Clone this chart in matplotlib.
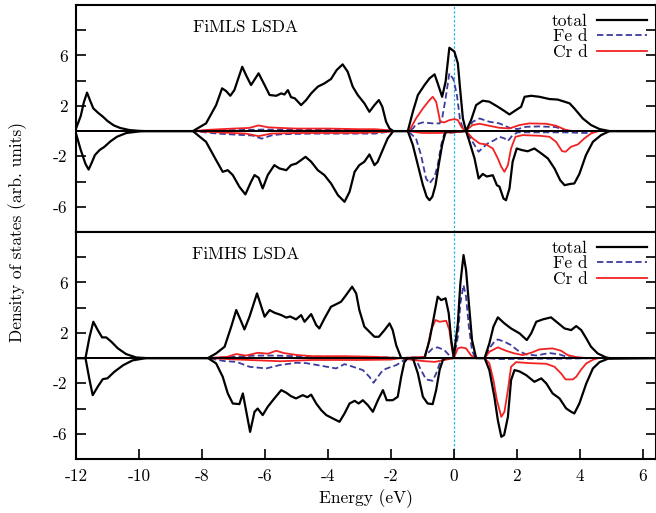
import matplotlib
matplotlib.use("Agg")
import matplotlib.pyplot as plt

plt.rcParams['font.family'] = 'serif'
plt.rcParams['font.serif'] = ['cmr10', 'DejaVu Serif']
plt.rcParams['mathtext.fontset'] = 'cm'
plt.rcParams['axes.unicode_minus'] = False
plt.rcParams['axes.formatter.use_mathtext'] = True
plt.rcParams['lines.solid_joinstyle'] = 'round'
plt.rcParams['lines.dash_joinstyle'] = 'round'

# ---- FiMLS LSDA (top panel) ----
mls_tot_up_e = [-12.0, -11.85, -11.75, -11.65, -11.55, -11.45, -11.3, -11.15, -11.0, -10.8, -10.6, -10.3, -10.0, -9.8,
                -8.29, -7.87, -7.55, -7.36, -7.23, -7.1, -6.97, -6.72, -6.6, -6.44, -6.2, -6.01, -5.85, -5.64, -5.48,
                -5.38, -5.27, -5.17, -5.05, -4.85, -4.69, -4.53, -4.32, -4.11, -3.9, -3.72, -3.53, -3.37, -3.21, -3.05,
                -2.84, -2.68, -2.52, -2.38, -2.27, -2.15, -2.04, -1.92, -1.46, -1.3, -1.14, -0.93, -0.77, -0.61, -0.51,
                -0.37, -0.26, -0.14, 0.02, 0.13, 0.2, 0.29, 0.39, 0.55, 0.71, 0.92, 1.13, 1.4, 1.61, 1.77, 1.93, 2.14,
                2.25, 2.46, 2.72, 3.04, 3.3, 3.52, 3.68, 3.83, 4.1, 4.36, 4.63, 4.95, 6.42]
mls_tot_up = [0.2, 1.2, 2.3, 3.05, 2.4, 1.8, 1.45, 1.15, 0.8, 0.45, 0.25, 0.08, 0.02, 0,
              0, 0.61, 2.06, 3.39, 3.17, 2.8, 3.25, 5.1, 4.44, 3.65, 4.58, 3.65, 2.86, 2.8, 2.99,
              2.9, 3.25, 2.69, 2.6, 2.06, 2.46, 2.99, 3.52, 3.78, 4.13, 4.84, 5.29, 4.71, 3.52, 2.86,
              2.2, 1.53, 2.06, 2.46, 1.93, 0.74, 0.2, 0, 0, 1.53, 2.86, 3.65, 4.18, 4.5, 3.78,
              2.72, 3.91, 6.61, 6.3, 5.37, 3.39, 1.0, 0, 0.87, 2.06, 2.41, 2.33, 1.93, 1.59, 1.32, 1.59, 1.93,
              2.72, 2.8, 2.72, 2.54, 2.5, 2.33, 2.2, 1.8, 1.0, 0.48, 0.16, 0, 0]

mls_tot_dn_e = [-12.0, -11.85, -11.7, -11.6, -11.5, -11.4, -11.25, -11.1, -10.9, -10.7, -10.4, -10.0, -9.8,
                -8.29, -7.87, -7.55, -7.34, -7.18, -7.02, -6.81, -6.62, -6.44, -6.33, -6.2, -6.07, -5.91, -5.7,
                -5.54, -5.32, -5.17, -5.0, -4.85, -4.71, -4.53, -4.32, -4.11, -3.9, -3.68, -3.47, -3.31, -3.15,
                -3.0, -2.84, -2.68, -2.52, -2.42, -2.26, -2.1, -1.92, -1.46, -1.3, -1.14, -0.98, -0.86, -0.77,
                -0.68, -0.58, -0.48, -0.37, -0.26, 0.39, 0.5, 0.66, 0.79, 0.92, 1.05, 1.24, 1.37, 1.45, 1.58,
                1.66, 1.77, 1.87, 2.0, 2.17, 2.35, 2.56, 2.78, 2.99, 3.2, 3.38, 3.52, 3.68, 3.83, 3.99, 4.2,
                4.42, 4.68, 4.95, 6.42]
mls_tot_dn = [-0.2, -1.5, -2.6, -3.05, -2.5, -1.9, -1.5, -1.25, -0.8, -0.45, -0.15, -0.03, 0,
              0, -0.85, -2.3, -3.23, -3.1, -3.49, -4.42, -5.02, -4.02, -3.49, -3.7, -4.55, -3.49, -2.7,
              -2.96, -3.1, -2.7, -2.57, -2.3, -2.04, -2.43, -3.1, -3.49, -4.15, -5.08, -5.61, -4.81, -3.23,
              -2.7, -2.43, -1.85, -2.7, -2.45, -1.51, -0.58, 0, 0, -1.11, -2.7, -4.29, -5.21, -5.48,
              -5.2, -4.29, -2.7, -1.11, -0.05, 0, -0.85, -2.17, -3.76, -3.4, -3.6, -3.5, -4.29, -4.4, -5.35,
              -5.48, -4.55, -2.43, -1.38, -1.51, -1.6, -1.38, -1.77, -2.17, -2.96, -3.89, -4.29, -4.2, -4.15, -3.4, -1.9,
              -0.85, -0.32, 0, 0]

mls_fe_up_e = [-12, -8.29, -7.0, -6.0, -4.0, -2.5, -1.92, -1.46, -1.3, -1.2, -0.98, -0.67, -0.45, -0.37, -0.26,
               -0.14, -0.01, 0.1, 0.2, 0.31, 0.39, 0.6, 0.82, 1.13, 1.45, 1.77, 2.03, 2.3, 2.72, 3.25, 3.46, 3.78, 6.42]
mls_fe_up = [0, 0, 0.08, 0.12, 0.1, 0.08, 0, 0, 0.2, 0.53, 0.69, 0.61, 0.61, 1.0, 2.59,
             4.58, 4.1, 2.86, 0.87, 0.08, 0, 0.74, 1.0, 0.74, 0.61, 0.26, 0.16, 0.34, 0.37, 0.32, 0.1, 0, 0]

mls_fe_dn_e = [-12, -8.29, -7.5, -6.8, -6.4, -6.1, -5.8, -5.5, -4.5, -3.5, -2.5, -1.92, -1.46, -1.2, -1.04, -0.88,
               -0.77, -0.61, -0.51, -0.4, -0.3, 0.39, 0.5, 0.66, 0.79, 0.92, 1.08, 1.29, 1.45, 1.61, 1.72, 1.87,
               2.03, 2.5, 3.5, 4.2, 4.6, 6.42]
mls_fe_dn = [0, 0, -0.2, -0.3, -0.35, -0.6, -0.35, -0.25, -0.2, -0.2, -0.2, 0, 0, -0.58, -1.9, -3.76,
             -4.15, -3.62, -2.7, -1.11, -0.19, 0, -0.45, -1.11, -1.64, -1.32, -0.98, -0.72, -0.45, -0.58, -0.79, -0.32,
             -0.1, -0.1, -0.1, -0.15, 0, 0]

mls_cr_up_e = [-12, -8.29, -7.8, -7.0, -6.5, -6.2, -5.9, -5.5, -5.0, -4.0, -3.0, -2.5, -2.0, -1.92, -1.46, -1.4,
               -1.2, -0.98, -0.77, -0.67, -0.56, -0.43, -0.3, -0.14, 0.02, 0.13, 0.24, 0.36, 0.6, 0.82, 1.13, 1.45,
               1.77, 2.09, 2.4, 2.94, 3.25, 3.57, 3.8, 6.42]
mls_cr_up = [0, 0, 0.1, 0.2, 0.25, 0.45, 0.3, 0.25, 0.2, 0.2, 0.15, 0.15, 0.05, 0, 0, 0.08,
             1.0, 1.8, 2.46, 2.72, 2.33, 0.74, 0.69, 0.87, 0.95, 0.87, 0.34, 0, 0.48, 0.58, 0.42, 0.26,
             0.21, 0.48, 0.61, 0.58, 0.42, 0.08, 0, 0]

mls_cr_dn_e = [-12, -8.29, -7.5, -6.6, -6.2, -5.8, -5.0, -3.0, -2.0, -1.92, -1.46, -1.0, -0.5, 0.0, 0.39, 0.6, 0.82,
               1.03, 1.24, 1.4, 1.51, 1.61, 1.72, 1.82, 1.96, 2.19, 2.72, 3.04, 3.25, 3.44, 3.55, 3.73, 3.94, 4.15,
               4.36, 4.6, 6.42]
mls_cr_dn = [0, 0, -0.1, -0.2, -0.4, -0.2, -0.15, -0.15, -0.05, 0, 0, -0.15, -0.15, -0.1, 0, -0.58, -0.98,
             -1.06, -1.38, -2.17, -2.83, -3.23, -2.7, -1.38, -0.45, -0.32, -0.37, -0.45, -0.85, -1.59, -1.64, -1.24, -1.06, -0.58,
             -0.19, 0, 0]

# ---- FiMHS LSDA (bottom panel) ----
mhs_tot_up_e = [-12, -11.7, -11.57, -11.45, -11.31, -11.17, -11.04, -10.88, -10.67, -10.41, -10.09, -9.77,
                -7.81, -7.55, -7.28, -7.07, -6.91, -6.75, -6.65, -6.49, -6.25, -6.01, -5.85, -5.7, -5.48, -5.32,
                -5.2, -5.01, -4.85, -4.74, -4.53, -4.37, -4.27, -4.11, -3.9, -3.72, -3.58, -3.42, -3.23, -3.1,
                -3.0, -2.84, -2.68, -2.52, -2.38, -2.2, -2.04, -1.94, -1.83, -1.67, -0.93, -0.77, -0.61, -0.51,
                -0.4, -0.26, -0.16, -0.08, 0.0, 0.13, 0.21, 0.31, 0.39, 0.48, 0.58, 0.71, 0.98, 1.13, 1.26, 1.4,
                1.61, 1.82, 2.09, 2.32, 2.46, 2.62, 2.83, 3.09, 3.3, 3.52, 3.73, 3.89, 4.05, 4.21, 4.36, 4.57,
                4.84, 4.95, 6.42]
mhs_tot_up = [0, 0, 1.69, 2.88, 2.22, 1.64, 1.64, 1.3, 0.77, 0.32, 0.05, 0,
              0, 0.37, 0.9, 2.49, 3.81, 2.88, 2.27, 3.28, 5.13, 3.28, 3.81, 3.6, 3.41, 3.21,
              3.3, 3.07, 3.41, 2.88, 3.49, 2.62, 2.35, 3.13, 4.07, 4.29, 4.47, 5.0, 5.66, 5.13,
              3.81, 2.49, 2.09, 1.69, 1.69, 2.22, 2.75, 2.22, 1.03, 0, 0, 1.43, 3.55, 4.87,
              4.6, 4.74, 3.55, 1.43, 0.1, 2.75, 5.93, 8.17, 6.98, 4.34, 1.43, 0, 0, 1.16, 2.49, 3.23,
              2.75, 2.35, 1.96, 1.43, 1.96, 2.88, 3.07, 3.23, 2.8, 2.35, 2.22, 2.54, 2.22, 1.56, 0.9, 0.37,
              0.05, 0, 0]

mhs_tot_dn_e = [-12, -11.7, -11.57, -11.47, -11.31, -11.15, -11.0, -10.78, -10.5, -10.2, -9.77, -7.81, -7.55,
                -7.34, -7.18, -7.02, -6.81, -6.7, -6.6, -6.47, -6.33, -6.23, -6.07, -5.91, -5.7, -5.48, -5.32,
                -5.17, -5.01, -4.8, -4.65, -4.53, -4.37, -4.21, -4.05, -3.84, -3.63, -3.47, -3.31, -3.15, -3.02,
                -2.89, -2.73, -2.57, -2.41, -2.25, -2.13, -1.94, -1.78, -1.67, -1.57, -1.46, -1.3, -1.14, -0.98,
                -0.83, -0.67, -0.56, -0.45, -0.35, -0.26, 0.98, 1.13, 1.29, 1.4, 1.51, 1.6, 1.72, 1.82, 1.93,
                2.09, 2.3, 2.56, 2.78, 2.94, 3.14, 3.36, 3.57, 3.73, 3.83, 3.99, 4.21, 4.42, 4.63, 4.9, 6.42]
mhs_tot_dn = [0, 0, -1.75, -2.94, -2.27, -1.67, -1.6, -1.08, -0.56, -0.18, 0, 0, -0.42,
              -1.48, -2.8, -3.6, -3.65, -2.8, -4.13, -5.85, -4.26, -4.0, -4.52, -3.86, -3.2, -2.54, -2.75,
              -3.02, -3.2, -2.94, -3.1, -2.9, -3.6, -4.13, -4.52, -4.79, -5.05, -4.39, -3.6, -3.39, -3.6,
              -3.34, -3.73, -4.26, -3.34, -2.54, -3.34, -3.34, -3.07, -1.48, -0.32, 0, 0, -1.22, -3.07,
              -3.6, -3.65, -2.54, -0.95, -0.18, 0, 0, -0.95, -3.07, -4.92, -6.24, -6.1, -4.66, -1.75, -0.95,
              -1.06, -1.35, -1.88, -1.61, -2.01, -2.8, -3.2, -3.99, -4.26, -4.39, -3.6, -2.01, -0.82, -0.32, -0.05, 0]

mhs_fe_up_e = [-12, -7.81, -7.3, -6.3, -5.7, -5.0, -4.0, -3.0, -2.0, -1.67, -0.93, -0.83, -0.67, -0.51, -0.3,
               -0.14, 0.0, 0.13, 0.21, 0.31, 0.39, 0.48, 0.58, 0.68, 0.98, 1.13, 1.29, 1.4, 1.61, 1.82, 2.03, 2.3,
               2.62, 3.04, 3.36, 3.62, 3.89, 6.42]
mhs_fe_up = [0, 0, 0.05, 0.2, 0.2, 0.15, 0.1, 0.1, 0.05, 0, 0.1, 0.37, 0.77, 0.85, 0.64,
             0.21, 0, 1.69, 4.34, 5.79, 4.87, 2.49, 0.61, 0, 0, 0.77, 1.3, 1.48, 1.3, 1.03, 0.61, 0.29,
             0.21, 0.4, 0.29, 0.08, 0, 0]

mhs_fe_dn_e = [-12, -7.81, -7.28, -6.9, -6.49, -5.96, -5.54, -5.0, -4.69, -4.16, -3.74, -3.47, -3.2, -2.89, -2.68,
               -2.55, -2.41, -2.25, -2.04, -1.83, -1.67, -1.5, -1.2, -1.04, -0.88, -0.67, -0.56, -0.43, -0.3, 0.98,
               1.5, 2.5, 3.5, 4.5, 6.42]
mhs_fe_dn = [0, 0, -0.24, -0.3, -0.69, -0.82, -0.56, -0.37, -0.4, -0.63, -0.82, -0.48, -0.69, -0.95, -1.48,
             -1.96, -1.48, -0.95, -0.74, -0.56, -0.32, 0, -0.13, -0.95, -1.69, -1.8, -1.22, -0.32, 0, 0,
             -0.08, -0.05, -0.05, 0, 0]

mhs_cr_up_e = [-12, -7.81, -7.2, -6.91, -6.6, -6.23, -5.9, -5.64, -5.4, -5.0, -4.5, -3.5, -2.5, -1.67, -0.93,
               -0.83, -0.72, -0.58, -0.45, -0.24, -0.14, -0.05, 0.0, 0.13, 0.24, 0.39, 0.55, 0.68, 0.98, 1.13, 1.4,
               1.66, 1.93, 2.19, 2.46, 2.72, 3.14, 3.41, 3.62, 3.89, 4.2, 6.42]
mhs_cr_up = [0, 0, 0.1, 0.32, 0.2, 0.42, 0.35, 0.58, 0.4, 0.25, 0.15, 0.15, 0.1, 0, 0.1,
             0.9, 2.22, 3.02, 2.88, 2.96, 2.22, 0.61, 0, 0.77, 0.85, 0.77, 0.21, 0, 0, 0.5, 0.85,
             0.58, 0.37, 0.24, 0.42, 0.69, 0.77, 0.58, 0.24, 0.08, 0, 0]

mhs_cr_dn_e = [-12, -7.81, -7.0, -6.5, -5.5, -4.5, -3.0, -2.0, -1.67, -1.3, -0.9, -0.6, -0.3, 0.0, 0.98, 1.13,
               1.26, 1.37, 1.51, 1.61, 1.72, 1.82, 1.98, 2.4, 2.94, 3.2, 3.41, 3.55, 3.78, 3.89, 4.05, 4.21, 4.42,
               4.6, 6.42]
mhs_cr_dn = [0, 0, -0.1, -0.15, -0.25, -0.15, -0.15, -0.12, 0, -0.15, -0.25, -0.3, -0.15, 0, 0, -0.42,
             -1.75, -3.33, -4.66, -4.26, -2.54, -0.69, -0.32, -0.4, -0.45, -0.69, -1.22, -1.69, -1.69, -1.48, -0.9,
             -0.42, -0.13, 0, 0]

yticks = [-8, -6, -4, -2, 0, 2, 4, 6, 8]
ytick_labels = ['', '-6', '', '-2', '', '2', '', '6', '']
xticks = [-12, -10, -8, -6, -4, -2, 0, 2, 4, 6]
xtick_labels = ['-12', '-10', '-8', '-6', '-4', '-2', '0', '2', '4', '6']

BLUE = '#3c3c9e'
RED = '#f22222'


def panel(ax, title, tot, fe, cr, show_x):
    ax.plot(fe[0], fe[1], color=BLUE, lw=1.3, ls=(0, (3.5, 1.8)), label='Fe d')
    ax.plot(fe[2], fe[3], color=BLUE, lw=1.3, ls=(0, (3.5, 1.8)))
    ax.plot(cr[0], cr[1], color=RED, lw=1.3, label='Cr d')
    ax.plot(cr[2], cr[3], color=RED, lw=1.3)
    ax.plot(tot[0], tot[1], color='black', lw=1.6, label='total')
    ax.plot(tot[2], tot[3], color='black', lw=1.6)
    ax.axhline(0, color='black', lw=1.4, zorder=5)
    ax.axvline(0, color='#2ab4ea', lw=0.9, ls=(0, (2, 1.5)), zorder=1)
    ax.set_xlim(-12, 6.41)
    ax.set_ylim(-8, 10)
    ax.set_yticks(yticks)
    ax.set_yticklabels(ytick_labels)
    ax.tick_params(axis='y', direction='in', right=True, length=7, width=1.2, labelsize=12.5, pad=6)
    if show_x:
        ax.set_xticks(xticks)
        ax.set_xticklabels(xtick_labels)
        ax.tick_params(axis='x', direction='in', length=7, width=1.2, labelsize=12.5, pad=7)
        ax.set_xlabel('Energy (eV)', fontsize=12.5, labelpad=4)
    else:
        ax.set_xticks([])
    for s in ax.spines.values():
        s.set_linewidth(1.5)
    ax.text(-6.62, 8.25, title, fontsize=12.5, ha='center', va='center')
    h, l = ax.get_legend_handles_labels()
    order = [2, 0, 1]
    ax.legend([h[i] for i in order], [l[i] for i in order], loc='upper right', frameon=False,
              markerfirst=False, fontsize=12.5, handlelength=2.9, handletextpad=0.5,
              labelspacing=0.0, borderaxespad=0.2, borderpad=0.3)


fig = plt.figure(figsize=(6.56, 5.13), dpi=100)
ax1 = fig.add_axes([0.1159, 0.5478, 0.8834, 0.4425])
ax2 = fig.add_axes([0.1159, 0.1053, 0.8834, 0.4425])

panel(ax1, 'FiMLS LSDA',
      (mls_tot_up_e, mls_tot_up, mls_tot_dn_e, mls_tot_dn),
      (mls_fe_up_e, mls_fe_up, mls_fe_dn_e, mls_fe_dn),
      (mls_cr_up_e, mls_cr_up, mls_cr_dn_e, mls_cr_dn), False)
panel(ax2, 'FiMHS LSDA',
      (mhs_tot_up_e, mhs_tot_up, mhs_tot_dn_e, mhs_tot_dn),
      (mhs_fe_up_e, mhs_fe_up, mhs_fe_dn_e, mhs_fe_dn),
      (mhs_cr_up_e, mhs_cr_up, mhs_cr_dn_e, mhs_cr_dn), True)

fig.text(0.027, 0.548, 'Density of states (arb. units)', rotation=90, fontsize=12.5,
         ha='center', va='center')

fig.savefig('out.png', dpi=100)
